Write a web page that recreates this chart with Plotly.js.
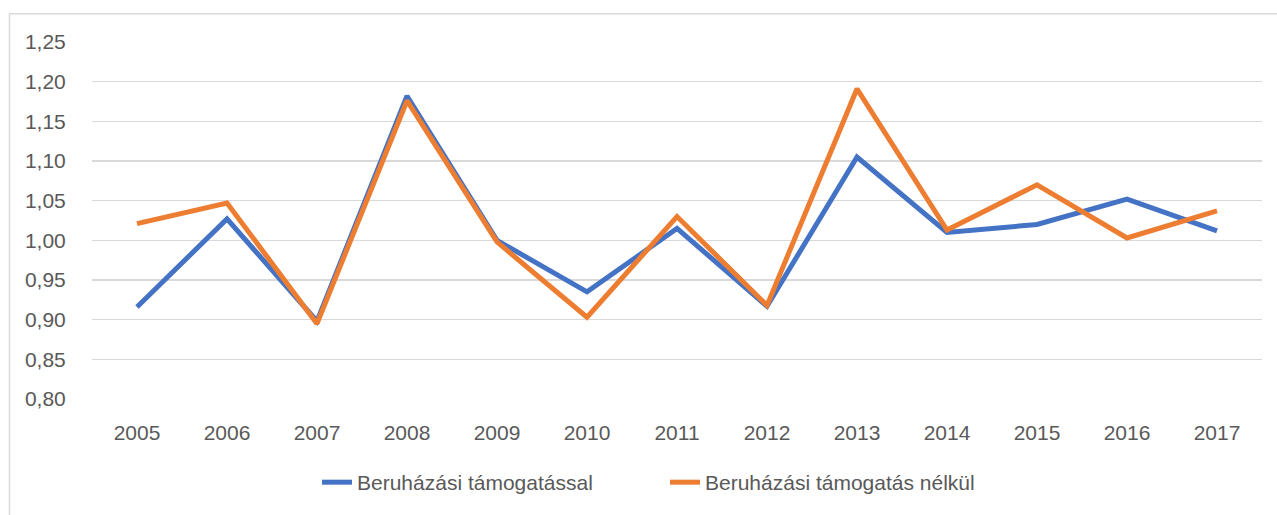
<!DOCTYPE html>
<html>
<head>
<meta charset="utf-8">
<script src="https://cdn.plot.ly/plotly-3.0.1.min.js"></script>
<style>
html,body{margin:0;padding:0;background:#fff;}
#chart{width:1277px;height:515px;}
</style>
</head>
<body>
<div id="chart"></div>
<script>
const years = ["2005","2006","2007","2008","2009","2010","2011","2012","2013","2014","2015","2016","2017"];
const withSupport = [0.916, 1.027, 0.898, 1.182, 1.000, 0.935, 1.015, 0.917, 1.105, 1.010, 1.020, 1.052, 1.012];
const withoutSupport = [1.021, 1.047, 0.895, 1.176, 0.998, 0.903, 1.030, 0.918, 1.191, 1.013, 1.070, 1.003, 1.037];
const seriesNames = ["Beruházási támogatással", "Beruházási támogatás nélkül"];
const yTicks = [0.80, 0.85, 0.90, 0.95, 1.00, 1.05, 1.10, 1.15, 1.20, 1.25];
const yTickText = ["0,80","0,85","0,90","0,95","1,00","1,05","1,10","1,15","1,20","1,25"];

const W = 1277, H = 515;
const L = 92, R = 15, T = 42, B = 114;
const pw = W - L - R, ph = H - T - B;
const px = x => (x - L) / pw;
const py = y => (H - B - y) / ph;

const font = {family: "Liberation Sans, Arial, sans-serif", size: 21, color: "#595959"};

const traces = [
  {x: years, y: withSupport, name: seriesNames[0], type: "scatter", mode: "lines",
   line: {color: "#4472C4", width: 5, shape: "linear"}},
  {x: years, y: withoutSupport, name: seriesNames[1], type: "scatter", mode: "lines",
   line: {color: "#ED7D31", width: 5, shape: "linear"}}
];

const layout = {
  width: W, height: H,
  margin: {l: L, r: R, t: T, b: B, pad: 0},
  paper_bgcolor: "#ffffff", plot_bgcolor: "#ffffff",
  font: font,
  showlegend: true,
  legend: {orientation: "h", x: px(665), xanchor: "center", y: py(485), yanchor: "middle",
           font: font, bgcolor: "rgba(0,0,0,0)", itemwidth: 30, tracegroupgap: 0,
           entrywidth: 303},
  xaxis: {type: "category", showgrid: false, zeroline: false, showline: false,
          ticks: "outside", ticklen: 15, tickcolor: "rgba(0,0,0,0)",
          tickfont: font, range: [-0.5, 12.5], fixedrange: true},
  yaxis: {range: [0.80, 1.25], tickvals: yTicks, ticktext: yTickText,
          showgrid: true, gridcolor: "#d9d9d9", gridwidth: 1.5, zeroline: false, showline: false,
          ticks: "outside", ticklen: 21, tickcolor: "rgba(0,0,0,0)",
          tickfont: font, fixedrange: true},
  shapes: [
    {type: "line", xref: "paper", yref: "paper", x0: px(9), x1: px(1277), y0: py(13.5), y1: py(13.5),
     line: {color: "#d9d9d9", width: 1.5}},
    {type: "line", xref: "paper", yref: "paper", x0: px(9.5), x1: px(9.5), y0: py(13.5), y1: py(520),
     line: {color: "#d9d9d9", width: 1.5}}
  ]
};

Plotly.newPlot("chart", traces, layout, {displayModeBar: false, staticPlot: true});
</script>
</body>
</html>
